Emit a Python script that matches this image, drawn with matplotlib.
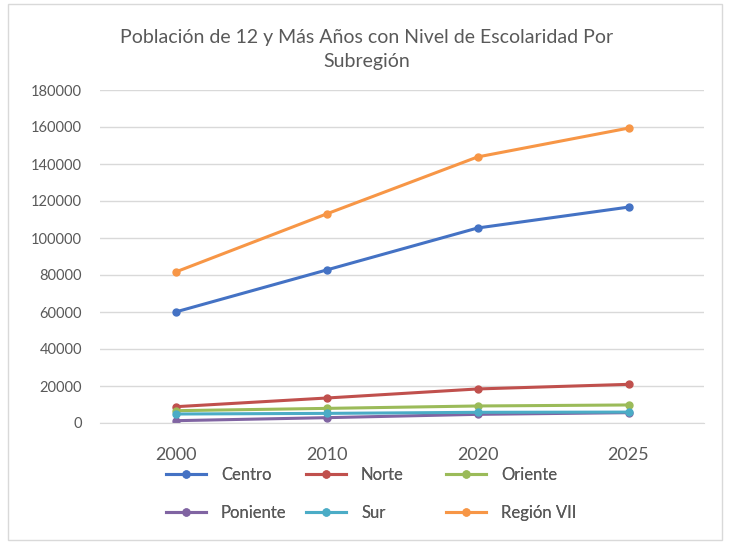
import matplotlib.pyplot as plt
from matplotlib.patches import Rectangle

years = ['2000', '2010', '2020', '2025']
centro = [60000, 82700, 105400, 116700]
norte = [8800, 13500, 18400, 20900]
oriente = [6650, 7900, 9200, 9750]
poniente = [1250, 2880, 4680, 5580]
sur = [4860, 5200, 5770, 5900]
region_vii = [81600, 113000, 143800, 159400]

series = [
    ('Centro', centro, '#4472C4'),
    ('Norte', norte, '#C0504D'),
    ('Oriente', oriente, '#9BBB59'),
    ('Poniente', poniente, '#8064A2'),
    ('Sur', sur, '#4BACC6'),
    ('Región VII', region_vii, '#F79646'),
]

plt.rcParams['font.family'] = ['Lato', 'DejaVu Sans']
txt = '#595959'

fig = plt.figure(figsize=(7.31, 5.42), dpi=100)
ax = fig.add_axes([100 / 731, 1 - 423 / 542, 604 / 731, 333 / 542])

x = list(range(len(years)))
handles = {}
for name, vals, col in series:
    h, = ax.plot(x, vals, color=col, lw=2.2, marker='o', ms=5, label=name)
    handles[name] = h

ax.set_xlim(-0.5, len(years) - 0.5)
ax.set_ylim(0, 180000)
ax.set_yticks(range(0, 180001, 20000))
ax.set_xticks(x)
ax.set_xticklabels(years, fontsize=13, color=txt)
ax.tick_params(axis='y', labelsize=10.5, colors=txt, length=0, pad=13)
ax.tick_params(axis='x', length=0, pad=17)
ax.grid(axis='y', color='#D9D9D9', lw=1)
ax.set_axisbelow(True)
for s in ['top', 'right', 'left']:
    ax.spines[s].set_visible(False)
ax.spines['bottom'].set_color('#D9D9D9')

fig.text(367 / 731, 1 - 37 / 542, 'Población de 12 y Más Años con Nivel de Escolaridad Por',
         ha='center', va='center', fontsize=14, color=txt)
fig.text(367 / 731, 1 - 62 / 542, 'Subregión', ha='center', va='center', fontsize=14, color=txt)

# one legend per column so the columns sit at equal spacing, like Excel
columns = [['Centro', 'Poniente'], ['Norte', 'Sur'], ['Oriente', 'Región VII']]
col_x = [166, 306, 446]
for names, cx in zip(columns, col_x):
    leg = fig.legend([handles[n] for n in names], names, ncol=1, frameon=False,
                     loc='center left', bbox_to_anchor=(cx / 731, 1 - 494 / 542),
                     fontsize=12, labelcolor=txt, handlelength=2.4,
                     labelspacing=1.3, handletextpad=0.9, borderpad=0, borderaxespad=0)
    fig.add_artist(leg)

fig.patches.append(Rectangle((8 / 731, 2 / 542), 714 / 731, 536 / 542, transform=fig.transFigure,
                             fill=False, edgecolor='#D9D9D9', lw=1))

plt.savefig('out.png', dpi=100)
